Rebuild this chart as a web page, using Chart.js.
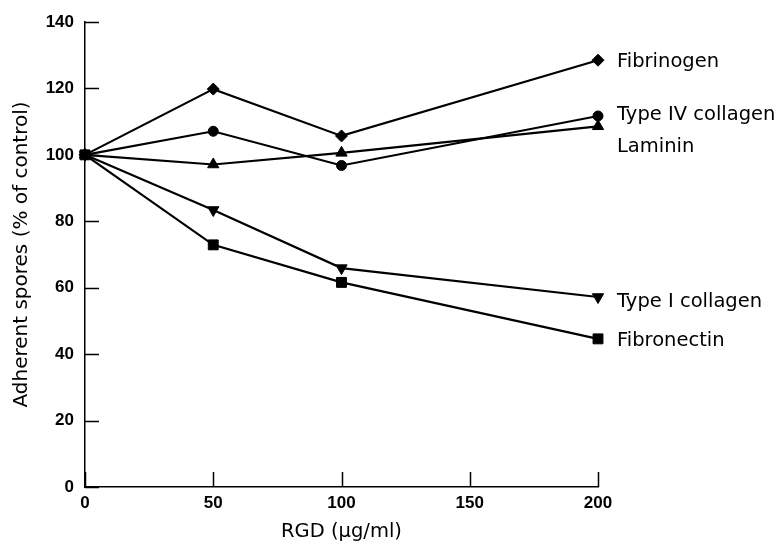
<!DOCTYPE html>
<html>
<head>
<meta charset="utf-8">
<script src="https://cdn.jsdelivr.net/npm/chart.js@4.4.1/dist/chart.umd.min.js"></script>
<style>
  html, body { margin: 0; padding: 0; background: #fff; }
  canvas { display: block; }
</style>
</head>
<body>
<canvas id="chart" width="782" height="542"></canvas>
<script>
// RGD concentration (ug/ml) on the x axis
const rgdDoses = [0, 50, 100, 200];
const xTicks = [0, 50, 100, 150, 200];
const yTicks = [0, 20, 40, 60, 80, 100, 120, 140];

// Adherent spores, % of control
const fibronectin = [100, 72.9, 61.6, 44.6];
const typeICollagen = [100, 83.4, 65.9, 57.2];
const laminin = [100, 97.1, 100.6, 108.6];
const typeIVCollagen = [100, 107.1, 96.8, 111.7];
const fibrinogen = [100, 119.8, 105.7, 128.5];

const seriesNames = ['Fibronectin', 'Type I collagen', 'Laminin', 'Type IV collagen', 'Fibrinogen'];

const INK = '#000';

function makeSeries(label, values, style, radius, rotation) {
    return {
        label,
        data: rgdDoses.map((x, i) => ({ x, y: values[i] })),
        borderColor: INK,
        borderWidth: 2.2,
        backgroundColor: INK,
        pointStyle: style,
        pointRadius: radius,
        pointRotation: rotation || 0,
        pointBackgroundColor: INK,
        pointBorderColor: INK,
        pointBorderWidth: 1,
        tension: 0,
        clip: false
    };
}

/**
 * Inward tick marks on both axes
 */
const inwardTicks = {
    id: 'inwardTicks',
    afterDraw(chart) {
        const { ctx, chartArea, scales } = chart;
        ctx.save();
        ctx.strokeStyle = INK;
        ctx.lineWidth = 1.5;
        ctx.beginPath();
        xTicks.forEach(v => {
            const px = Math.round(scales.x.getPixelForValue(v)) + 0.5;
            ctx.moveTo(px, chartArea.bottom);
            ctx.lineTo(px, chartArea.bottom - 15);
        });
        yTicks.forEach(v => {
            const py = Math.round(scales.y.getPixelForValue(v)) + 0.5;
            ctx.moveTo(chartArea.left, py);
            ctx.lineTo(chartArea.left + 14, py);
        });
        ctx.stroke();
        ctx.restore();
    }
};

/**
 * Series names written next to the last point
 */
const endLabels = {
    id: 'endLabels',
    afterDatasetsDraw(chart) {
        const { ctx } = chart;
        const nudge = [2.5, 4.5, 21, -1, 1.5];
        ctx.save();
        ctx.fillStyle = INK;
        ctx.font = '19.5px "DejaVu Sans"';
        ctx.textAlign = 'left';
        ctx.textBaseline = 'middle';
        chart.data.datasets.forEach((ds, i) => {
            const pts = chart.getDatasetMeta(i).data;
            const last = pts[pts.length - 1];
            ctx.fillText(ds.label, last.x + 19, last.y + nudge[i]);
        });
        ctx.restore();
    }
};

new Chart(document.getElementById('chart'), {
    type: 'line',
    data: {
        datasets: [
            makeSeries(seriesNames[0], fibronectin, 'rect', 7),
            makeSeries(seriesNames[1], typeICollagen, 'triangle', 6.5, 180),
            makeSeries(seriesNames[2], laminin, 'triangle', 6.5),
            makeSeries(seriesNames[3], typeIVCollagen, 'circle', 5),
            makeSeries(seriesNames[4], fibrinogen, 'rectRot', 6)
        ]
    },
    options: {
        responsive: false,
        animation: false,
        layout: { padding: { top: 22, right: 184, left: 0, bottom: 0 } },
        plugins: {
            legend: { display: false },
            tooltip: { enabled: false }
        },
        scales: {
            x: {
                type: 'linear',
                min: 0,
                max: 200,
                afterBuildTicks: (scale) => { scale.ticks = xTicks.map(v => ({ value: v })); },
                afterFit: (scale) => { scale.height = 55; },
                grid: { display: false, drawTicks: false },
                border: { display: true, color: INK, width: 1.5 },
                ticks: {
                    color: INK,
                    padding: 6,
                    font: { family: '"Liberation Sans", Arial', size: 17, weight: 'bold' }
                },
                title: {
                    display: true,
                    text: 'RGD (\u03bcg/ml)',
                    color: INK,
                    padding: 0,
                    font: { family: '"DejaVu Sans"', size: 19.5, lineHeight: 1 }
                }
            },
            y: {
                min: 0,
                max: 140,
                afterBuildTicks: (scale) => { scale.ticks = yTicks.map(v => ({ value: v })); },
                afterFit: (scale) => { scale.width = 85; },
                grid: { display: false, drawTicks: false },
                border: { display: true, color: INK, width: 1.5 },
                ticks: {
                    color: INK,
                    padding: 11,
                    font: { family: '"Liberation Sans", Arial', size: 17, weight: 'bold' }
                },
                title: {
                    display: true,
                    text: 'Adherent spores (% of control)',
                    color: INK,
                    padding: { top: 10, bottom: 0 },
                    font: { family: '"DejaVu Sans"', size: 20 }
                }
            }
        }
    },
    plugins: [inwardTicks, endLabels]
});
</script>
</body>
</html>
